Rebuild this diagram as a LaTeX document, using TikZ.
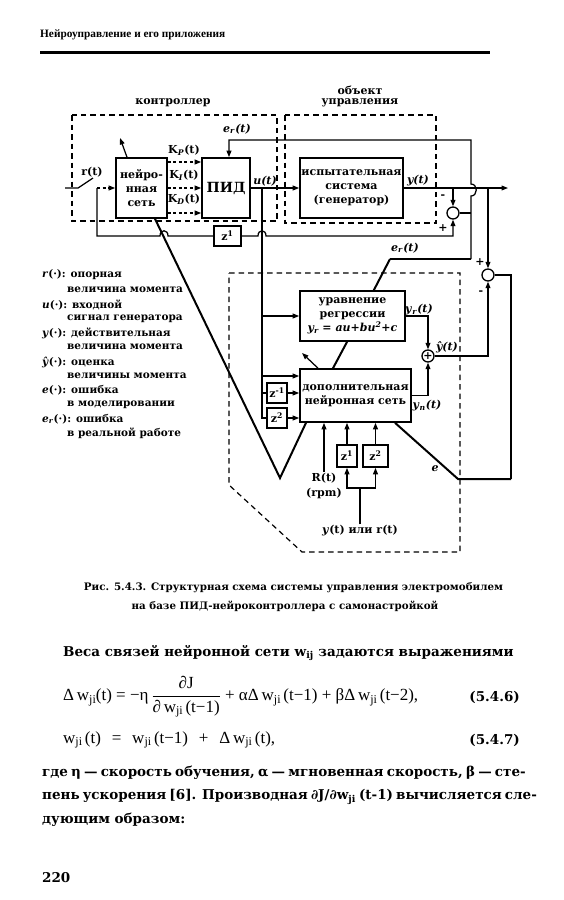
\documentclass[tikz,border=0pt]{standalone}
\usepackage{fontspec}
\setmainfont{DejaVu Serif}
\newfontfamily\libser{Liberation Serif}
\usetikzlibrary{arrows.meta}
\newcommand\boxfont{\fontsize{11}{14}\selectfont\bfseries}
\newcommand\lblfont{\fontsize{11}{13}\selectfont\bfseries}
\newcommand\legfont{\fontsize{10.5}{13}\selectfont\bfseries}
\newcommand\capfont{\fontsize{10.3}{13}\selectfont\bfseries}
\newcommand\bodyfont{\fontsize{13.5}{16}\selectfont\bfseries}
\newcommand\eqfont{\libser\fontsize{17}{20}\selectfont}
\newcommand\hdrfont{\libser\fontsize{11.3}{13}\selectfont\bfseries}
\newcommand\sbs[1]{\raisebox{-0.35ex}{\fontsize{12}{12}\selectfont #1}}
\begin{document}
\begin{tikzpicture}[x=1pt,y=-1pt,
 ln/.style={line width=1.25pt},
 thk/.style={line width=2pt},
 arr/.style={-{Triangle[length=6.5pt,width=4.8pt]}},
 blk/.style={draw,line width=1.6pt,fill=white,inner sep=0pt,align=center,font=\boxfont},
 dbox/.style={line width=1.2pt,dash pattern=on 5.5pt off 4pt},
 dsh/.style={dash pattern=on 3pt off 2.5pt},
 sumc/.style={circle,draw,line width=1.3pt,minimum size=12pt,inner sep=0pt,fill=white},
 lbl/.style={inner sep=1pt,font=\lblfont},
 leg/.style={anchor=west,inner sep=0pt,font=\legfont}]
\useasboundingbox[fill=white] (0,0) rectangle (563,900);

% header
\node[anchor=west,inner sep=0pt,font=\hdrfont] (hdr) at (40,35) {Нейроуправление и его приложения};
\draw[line width=2.4pt] (40,52.5) -- (490,52.5);

% dashed regions
\draw[dbox] (72,115) rectangle (277,221);
\draw[dbox] (285,115) rectangle (436,223);
\draw[dbox] (229,273) -- (460,273) -- (460,552) -- (302,552) -- (229,485) -- cycle;

% region labels
\node[lbl] (lctl) at (173,103) {контроллер};
\node[lbl] (lobj1) at (360,90) {объект};
\node[lbl] (lobj2) at (360,103) {управления};

% blocks
\node[blk,minimum width=51pt,minimum height=60pt] (nn) at (141.5,188) {нейро-\\нная\\сеть};
\node[blk,minimum width=48pt,minimum height=60pt,font=\fontsize{14}{16}\selectfont\bfseries] (pid) at (226,188) {ПИД};
\node[blk,minimum width=103pt,minimum height=60pt] (plant) at (351.5,188) {испытательная\\система\\(генератор)};
\node[blk,minimum width=27pt,minimum height=20pt] (z1) at (227.5,236) {z\textsuperscript{1}};
\node[blk,minimum width=111pt,minimum height=53pt] (addnn) at (355.5,395.5) {дополнительная\\нейронная сеть};
\node[blk,minimum width=20pt,minimum height=20pt] (za1) at (277,393) {z\textsuperscript{-1}};
\node[blk,minimum width=20pt,minimum height=20pt] (za2) at (277,418) {z\textsuperscript{2}};
\node[blk,minimum width=20pt,minimum height=22pt] (zb1) at (347,456) {z\textsuperscript{1}};
\node[blk,minimum width=25pt,minimum height=22pt] (zb2) at (375.5,456) {z\textsuperscript{2}};
\node[sumc] (c1) at (453,213) {};
\node[sumc] (c2) at (488,275) {};
\node[sumc,font=\fontsize{11}{11}\selectfont\bfseries] (cp) at (428,356) {+};

% e_r diagonal behind regression block
\draw[ln] (471,259) -- (390,259);
\draw[thk] (390,259) -- (373.4,291);
\draw[thk] (347.5,341) -- (addnn.north -| 333,0);
\node[blk,minimum width=105pt,minimum height=50pt] (reg) at (352.5,316) {уравнение\\регрессии\\\textit{y\textsubscript{r} = au+bu\textsuperscript{2}+c}};

% input r(t) and switch
\coordinate (rin) at (65,188);
\coordinate (sw1) at (78,188);
\coordinate (sw2) at (93,178);
\coordinate (sw3) at (97,188);
\draw[ln] (rin) -- (sw1) -- (sw2);
\draw[ln,arr,dsh] (sw3) -- (nn.west);
\node[lbl] (lr) at (92,172) {r(t)};

% gains
\draw[ln,arr,dsh] (nn.east |- 0,162) -- (pid.west |- 0,162);
\draw[ln,arr,dsh] (nn.east |- 0,188) -- (pid.west |- 0,188);
\draw[ln,arr,dsh] (nn.east |- 0,213) -- (pid.west |- 0,213);
\node[lbl] (lkp) at (184,150) {K\textsubscript{\textit{P}}(t)};
\node[lbl] (lki) at (184,175) {K\textsubscript{\textit{I}}(t)};
\node[lbl] (lkd) at (184,199) {K\textsubscript{\textit{D}}(t)};

% adaptation arrows
\draw[ln,arr] (nn.north -| 127,0) -- (120,138);
\draw[ln,arr] (addnn.north -| 318,0) -- (302,353);

% delayed reference to comparator
\draw[ln] (sw3) -- (97,236) -- (160,236) .. controls (160,229) and (168,229) .. (168,236) -- (z1.west);
\draw[ln,arr] (z1.east) -- (258,236) .. controls (258,229) and (266,229) .. (266,236) -- (453,236) -- (c1.south);
\node[lbl] (lplus1) at (443,228) {+};

% u(t)
\draw[ln,arr] (pid.east) -- (plant.west);
\node[lbl] (lu) at (265,181) {\textit{u(t)}};
\draw[ln] (262,188) -- (262,418) -- (za2.west);
\draw[ln,arr] (262,316) -- (reg.west);
\draw[ln,arr] (262,376) -- (addnn.west |- 0,376);
\draw[ln] (262,393) -- (za1.west);
\draw[ln,arr] (za1.east) -- (addnn.west |- za1.east);
\draw[ln,arr] (za2.east) -- (addnn.west |- za2.east);

% y(t)
\coordinate (yout) at (508,188);
\draw[ln,arr] (plant.east) -- (yout);
\node[lbl] (ly) at (418,181) {\textit{y(t)}};
\draw[ln,arr] (453,188) -- (c1.north);
\node[lbl] (lminus1) at (443,197) {-};
\draw[ln,arr] (488,188) -- (c2.north);
\node[lbl] (lplus2) at (480,262) {+};
\node[lbl] (lminus2) at (481,293) {-};

% e_r(t) feedback
\draw[ln] (c1.east) -- (471,213);
\draw[ln,arr] (471,259) -- (471,196) .. controls (478,196) and (478,184) .. (471,184) -- (471,140) -- (229,140) -- (pid.north -| 229,0);
\node[lbl] (ler) at (237,129) {\textit{e}\textsubscript{\textit{r}}\textit{(t)}};
\node[lbl] (ler2) at (405,248) {\textit{e}\textsubscript{\textit{r}}\textit{(t)}};

% regression and additional net outputs
\draw[ln,arr] (reg.east) -- (428,316) -- (cp.north);
\node[lbl] (lyr) at (419,310) {\textit{y}\textsubscript{\textit{r}}\textit{(t)}};
\draw[ln,arr] (addnn.east) -- (428,395.5) -- (cp.south);
\node[lbl] (lyn) at (427,406) {\textit{y}\textsubscript{\textit{n}}\textit{(t)}};
\draw[ln,arr] (cp.east) -- (488,356) -- (c2.south);
\node[lbl] (lyh) at (447,347) {\textit{ŷ(t)}};

% modelling error e
\draw[ln] (c2.east) -- (511,275) -- (511,479);
\draw[thk] (511,479) -- (458,479) -- (addnn.south -| 395,0);
\node[lbl] (le) at (435,469) {\textit{e}};

% learning line of main net (V shape)
\draw[thk] (nn.south -| 155,0) -- (280,478) -- (addnn.south -| 306,0);

% bottom inputs
\node[lbl] (lrt) at (324,478) {R(t)};
\node[lbl] (lrpm) at (324,493) {(rpm)};
\draw[ln,arr] (lrt.north) -- (addnn.south -| lrt.north);
\draw[ln,arr] (zb1.north) -- (addnn.south -| zb1.north);
\draw[ln,arr] (zb2.north) -- (addnn.south -| zb2.north);
\node[lbl] (lyin) at (360,531) {\textit{y}(t) или r(t)};
\draw[ln] (lyin.north) -- (lyin.north |- 0,488);
\draw[ln,arr] (lyin.north |- 0,488) -| (zb1.south);
\draw[ln,arr] (lyin.north |- 0,488) -| (zb2.south);

% legend
\node[leg] (g1) at (42,275) {\textit{r}(·): опорная};
\node[leg] (g2) at (67,290) {величина момента};
\node[leg] (g3) at (42,305) {\textit{u}(·): входной};
\node[leg] (g4) at (67,319) {сигнал генератора};
\node[leg] (g5) at (42,333) {\textit{y}(·): действительная};
\node[leg] (g6) at (67,347) {величина момента};
\node[leg] (g7) at (42,362) {\textit{ŷ}(·): оценка};
\node[leg] (g8) at (67,376) {величины момента};
\node[leg] (g9) at (42,390) {\textit{e}(·): ошибка};
\node[leg] (g10) at (67,405) {в моделировании};
\node[leg] (g11) at (42,419) {\textit{e}\textsubscript{\textit{r}}(·): ошибка};
\node[leg] (g12) at (67,433) {в реальной работе};

% caption
\node[inner sep=0pt,font=\capfont] (cap1) at (293.5,588) {Рис. 5.4.3. Структурная схема системы управления электромобилем};
\node[inner sep=0pt,font=\capfont] (cap2) at (285,606) {на базе ПИД-нейроконтроллера с самонастройкой};

% body text
\node[anchor=west,inner sep=0pt,font=\bodyfont] (t0) at (63,653) {Веса связей нейронной сети w\textsubscript{ij} задаются выражениями};
\node[anchor=west,inner sep=0pt,font=\eqfont] (eq1) at (63,697) {Δ\,w\sbs{ji}(t) = −η\,$\displaystyle\frac{\mbox{∂J}}{\mbox{∂\,w\sbs{ji}\,(t−1)}}$ + αΔ\,w\sbs{ji}\,(t−1) + βΔ\,w\sbs{ji}\,(t−2),};
\node[anchor=east,inner sep=0pt,font=\bodyfont] (n1) at (520,697) {(5.4.6)};
\node[anchor=west,inner sep=0pt,font=\eqfont] (eq2) at (63,740) {\makebox[212pt][s]{w\sbs{ji}\,(t) = w\sbs{ji}\,(t−1) + Δ\,w\sbs{ji}\,(t),}};
\node[anchor=east,inner sep=0pt,font=\bodyfont] (n2) at (520,740) {(5.4.7)};
\node[anchor=west,inner sep=0pt,font=\bodyfont] (t1) at (42,773) {\makebox[481pt][s]{где η — скорость обучения, α — мгновенная скорость, β — сте-}};
\node[anchor=west,inner sep=0pt,font=\bodyfont] (t2) at (42,797) {\makebox[481pt][s]{пень ускорения [6]. Производная ∂J/∂w\textsubscript{ji} (t-1) вычисляется сле-}};
\node[anchor=west,inner sep=0pt,font=\bodyfont] (t3) at (42,820) {дующим образом:};
\node[anchor=west,inner sep=0pt,font=\bodyfont] (pg) at (42,878) {220};
\end{tikzpicture}
\end{document}
